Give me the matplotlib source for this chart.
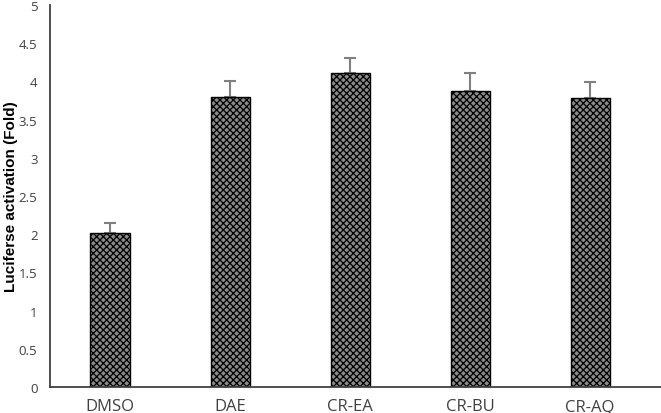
import matplotlib
matplotlib.use('Agg')
from matplotlib import pyplot as plt
import numpy as np

# chart data
groups = ['DMSO', 'DAE', 'CR-EA', 'CR-BU', 'CR-AQ']
fold = [2.01, 3.79, 4.11, 3.88, 3.78]
err_up = [0.14, 0.21, 0.19, 0.23, 0.21]
y_ticks = [0, 0.5, 1, 1.5, 2, 2.5, 3, 3.5, 4, 4.5, 5]

plt.rcParams['font.family'] = ['Open Sans', 'DejaVu Sans']
plt.rcParams['hatch.linewidth'] = 0.9
plt.rcParams['hatch.color'] = 'black'

fig = plt.figure(figsize=(6.61, 4.14), dpi=100)
ax = fig.add_axes([0.0756, 0.0628, 0.9244, 0.9227])

x = np.arange(len(groups))
yerr = np.array([np.zeros(len(err_up)), err_up])
ax.bar(x, fold, width=0.325, color='#8a8a8a', edgecolor='black',
       hatch='xxxxx', linewidth=1.0, zorder=2)
ax.errorbar(x, fold, yerr=yerr, fmt='none', ecolor='#7f7f7f',
            elinewidth=1.5, capsize=4, capthick=1.5, zorder=1)

ax.set_xlim(-0.5, 4.59)
ax.set_ylim(0, 5)
ax.set_yticks(y_ticks)
ax.set_yticklabels(['%g' % t for t in y_ticks])
ax.set_xticks(x)
ax.set_xticklabels(groups)
ax.tick_params(axis='both', length=0, colors='#404040')
ax.tick_params(axis='x', labelsize=12, pad=8)
ax.tick_params(axis='y', labelsize=9.5, pad=9)
ax.set_ylabel('Luciferse activation (Fold)', fontsize=11, fontweight='bold',
              family=['Liberation Sans', 'DejaVu Sans'], labelpad=0.5)

for side in ['top', 'right']:
    ax.spines[side].set_visible(False)
for side in ['left', 'bottom']:
    ax.spines[side].set_color('#404040')
    ax.spines[side].set_linewidth(1.3)

fig.savefig('out.png', dpi=100)
